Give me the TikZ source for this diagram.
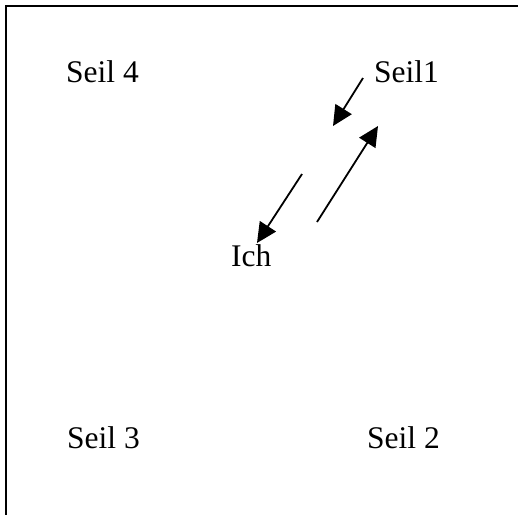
\documentclass[tikz,border=0pt]{standalone}
\usepackage{fontspec}
\setmainfont{Liberation Serif}
\usetikzlibrary{arrows.meta}

\begin{document}
\begin{tikzpicture}[x=1pt,y=-1pt]

\tikzset{seil/.style = {anchor=base west, inner sep=0pt, font=\fontsize{31.5}{36}\selectfont}}
\tikzset{pfeil/.style = {-{Triangle[length=20pt,width=19pt]}, line width=1.8pt}}
\useasboundingbox (0,0) rectangle (518,515);
%rahmen
\draw[line width=2.2pt] (518,6) -- (6,6) -- (6,515);
%seile
\node[seil] (s4) at (66,82) {Seil 4};
\node[seil] (s1) at (374,82) {Seil1};
\node[seil] (s3) at (67,448) {Seil 3};
\node[seil] (s2) at (367,448) {Seil 2};
\node[seil] (ich) at (231,266) {Ich};
%pfeile
\coordinate (a1) at (363,78);
\coordinate (b1) at (333,126);
\coordinate (a2) at (317,222);
\coordinate (b2) at (378,126);
\coordinate (a3) at (302,174);
\coordinate (b3) at (257,243);
\draw [pfeil] (a1) -- (b1);
\draw [pfeil] (a2) -- (b2);
\draw [pfeil] (a3) -- (b3);

\end{tikzpicture}
\end{document}
